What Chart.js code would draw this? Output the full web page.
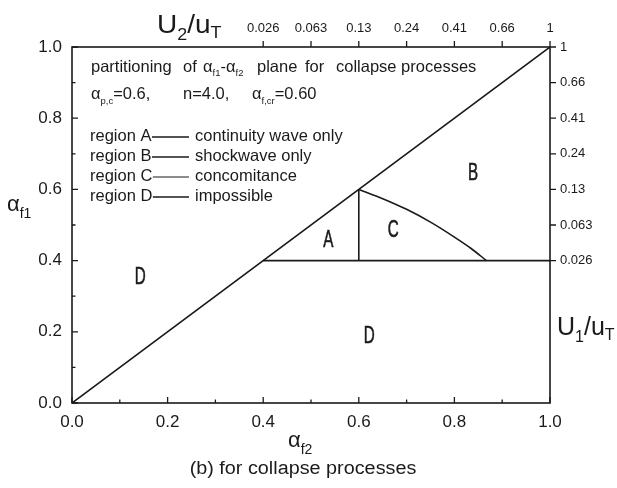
<!DOCTYPE html>
<html>
<head>
<meta charset="utf-8">
<script src="https://cdn.jsdelivr.net/npm/chart.js@4/dist/chart.umd.min.js"></script>
<style>
  html, body { margin: 0; padding: 0; background: #fff; }
  #wrap { width: 617px; height: 488px; }
</style>
</head>
<body>
<div id="wrap"><canvas id="c" width="617" height="488"></canvas></div>
<script>
// Boundaries of the partition in the αf2–αf1 plane
const diagonalF2 = [0, 1];
const diagonalF1 = [0, 1];
const baseF2 = [0.4, 1.0];
const baseF1 = [0.4, 0.4];
const splitF2 = [0.6, 0.6];
const splitF1 = [0.4, 0.6];
const curveF2 = [0.6, 0.65, 0.7, 0.75, 0.8, 0.835, 0.867];
const curveF1 = [0.6, 0.574, 0.544, 0.508, 0.466, 0.434, 0.4];

// Secondary axes: velocity ratio U/uT at αf = 0.4 … 1.0
const ratioTickPos = [0.4, 0.5, 0.6, 0.7, 0.8, 0.9, 1.0];
const ratioTickLabels = ['0.026', '0.063', '0.13', '0.24', '0.41', '0.66', '1'];

// Region letters (anchored in data coordinates)
const regionNames = ['A', 'C', 'B', 'D', 'D'];
const regionF2 = [0.536, 0.672, 0.839, 0.143, 0.622];
const regionF1 = [0.457, 0.485, 0.645, 0.351, 0.185];

// Key text
const legendKeys = ['region A', 'region B', 'region C', 'region D'];
const legendDesc = ['continuity wave only', 'shockwave only', 'concomitance', 'impossible'];

const FF = '"Liberation Sans", Arial, Helvetica, sans-serif';
const INK = '#1a1a1a';

const toPts = (xs, ys) => xs.map((x, i) => ({ x: x, y: ys[i] }));

function lineSet(xs, ys, extra) {
  return Object.assign({
    data: toPts(xs, ys),
    showLine: true,
    borderColor: INK,
    borderWidth: 1.6,
    pointRadius: 0,
    fill: false
  }, extra || {});
}

// Draw a run of text pieces (main text + subscripts) left to right
function drawRich(ctx, x, y, parts, hs) {
  hs = hs || 1;
  ctx.save();
  ctx.translate(x, y);
  ctx.scale(hs, 1);
  ctx.textAlign = 'left';
  ctx.textBaseline = 'alphabetic';
  let cx = 0;
  for (const p of parts) {
    ctx.font = p.f;
    cx += p.dx || 0;
    ctx.fillText(p.t, cx, p.dy || 0);
    cx += ctx.measureText(p.t).width;
  }
  ctx.restore();
  return x + cx * hs;
}

const decorations = {
  id: 'decorations',
  afterDraw(chart) {
    const ctx = chart.ctx;
    const a = chart.chartArea;
    const sx = chart.scales.x, sy = chart.scales.y;
    const sx2 = chart.scales.x2, sy2 = chart.scales.y2;
    ctx.save();
    ctx.strokeStyle = INK;
    ctx.fillStyle = INK;

    // frame
    ctx.lineWidth = 1.6;
    ctx.strokeRect(a.left, a.top, a.right - a.left, a.bottom - a.top);

    // tick marks: inward on left/bottom, outward on top/right
    ctx.lineWidth = 1.3;
    ctx.beginPath();
    for (let i = 0; i <= 10; i++) {
      const v = i / 10;
      const len = i % 2 === 0 ? 6 : 3.5;
      const py = sy.getPixelForValue(v);
      ctx.moveTo(a.left, py); ctx.lineTo(a.left + len, py);
      const px = sx.getPixelForValue(v);
      ctx.moveTo(px, a.bottom); ctx.lineTo(px, a.bottom - len);
    }
    for (const v of ratioTickPos) {
      const px = sx2.getPixelForValue(v);
      ctx.moveTo(px, a.top); ctx.lineTo(px, a.top - 6);
      const py = sy2.getPixelForValue(v);
      ctx.moveTo(a.right, py); ctx.lineTo(a.right + 6, py);
    }
    ctx.stroke();

    // header lines inside the plot
    const fh = '16.5px ' + FF, fsub = '9.5px ' + FF;
    drawRich(ctx, 91, 72, [{ t: 'partitioning', f: fh }]);
    drawRich(ctx, 183, 72, [{ t: 'of', f: fh }]);
    drawRich(ctx, 203, 72, [
      { t: 'α', f: fh }, { t: 'f1', f: fsub, dy: 4 },
      { t: '-', f: fh },
      { t: 'α', f: fh }, { t: 'f2', f: fsub, dy: 4 }
    ]);
    drawRich(ctx, 257, 72, [{ t: 'plane', f: fh }]);
    drawRich(ctx, 305, 72, [{ t: 'for', f: fh }]);
    drawRich(ctx, 336, 72, [{ t: 'collapse processes', f: fh }]);

    drawRich(ctx, 91, 99, [
      { t: 'α', f: fh }, { t: 'p,c', f: fsub, dy: 5 }, { t: '=0.6,', f: fh }
    ]);
    drawRich(ctx, 183, 99, [{ t: 'n=4.0,', f: fh }]);
    drawRich(ctx, 252, 99, [
      { t: 'α', f: fh }, { t: 'f,cr', f: fsub, dy: 5 }, { t: '=0.60', f: fh }
    ]);

    // key rows
    ctx.font = '16.5px ' + FF;
    ctx.textBaseline = 'middle';
    ctx.textAlign = 'left';
    legendKeys.forEach((k, i) => {
      const yc = 136 + i * 20;
      ctx.fillText(k, 90, yc);
      const w = ctx.measureText(k).width;
      ctx.lineWidth = i === 2 ? 1.0 : 1.3;
      ctx.beginPath();
      ctx.moveTo(90 + w + 0.5, yc + 1);
      ctx.lineTo(189, yc + 1);
      ctx.stroke();
      ctx.fillText(legendDesc[i], 195, yc);
    });

    // region letters
    regionNames.forEach((n, i) => {
      const px = sx.getPixelForValue(regionF2[i]);
      const py = sy.getPixelForValue(regionF1[i]);
      ctx.save();
      ctx.translate(px, py);
      ctx.scale(0.66, 1);
      ctx.font = '23px ' + FF;
      ctx.textAlign = 'center';
      ctx.textBaseline = 'middle';
      ctx.lineWidth = 0.6;
      ctx.fillText(n, 0, 0);
      ctx.strokeText(n, 0, 0);
      ctx.restore();
    });

    // axis titles
    drawRich(ctx, 157, 33, [
      { t: 'U', f: '25px ' + FF }, { t: '2', f: '16px ' + FF, dy: 7 },
      { t: '/u', f: '25px ' + FF }, { t: 'T', f: '16px ' + FF, dy: 5 }
    ], 1.12);
    drawRich(ctx, 557, 335, [
      { t: 'U', f: '25px ' + FF }, { t: '1', f: '16px ' + FF, dy: 7 },
      { t: '/u', f: '25px ' + FF }, { t: 'T', f: '16px ' + FF, dy: 5 }
    ], 1.0);
    drawRich(ctx, 7, 211, [
      { t: 'α', f: '22px ' + FF }, { t: 'f1', f: '14px ' + FF, dy: 7 }
    ]);
    drawRich(ctx, 288, 447, [
      { t: 'α', f: '22px ' + FF }, { t: 'f2', f: '14px ' + FF, dy: 7 }
    ]);

    // caption
    ctx.save();
    ctx.translate(303, 474);
    ctx.scale(1.1, 1);
    ctx.font = '18px ' + FF;
    ctx.textAlign = 'center';
    ctx.textBaseline = 'alphabetic';
    ctx.fillText('(b) for collapse processes', 0, 0);
    ctx.restore();

    ctx.restore();
  }
};

const noGrid = { display: false, drawTicks: false };
const noBorder = { display: false };

new Chart(document.getElementById('c'), {
  type: 'scatter',
  data: {
    datasets: [
      lineSet(diagonalF2, diagonalF1),
      lineSet(baseF2, baseF1),
      lineSet(splitF2, splitF1),
      lineSet(curveF2, curveF1, { cubicInterpolationMode: 'monotone' })
    ]
  },
  options: {
    responsive: false,
    animation: false,
    devicePixelRatio: 1,
    layout: { padding: 0 },
    plugins: { legend: { display: false }, tooltip: { enabled: false } },
    scales: {
      x: {
        type: 'linear', position: 'bottom', min: 0, max: 1,
        grid: noGrid, border: noBorder,
        ticks: {
          stepSize: 0.2, padding: 9, color: INK, maxRotation: 0,
          font: { family: FF, size: 17 },
          callback: v => Number(v).toFixed(1)
        },
        afterFit: s => { s.height = 85; }
      },
      y: {
        type: 'linear', position: 'left', min: 0, max: 1,
        grid: noGrid, border: noBorder,
        ticks: {
          stepSize: 0.2, padding: 10, color: INK,
          font: { family: FF, size: 17 },
          callback: v => Number(v).toFixed(1)
        },
        afterFit: s => { s.width = 72; }
      },
      x2: {
        type: 'linear', axis: 'x', position: 'top', min: 0, max: 1,
        grid: noGrid, border: noBorder,
        afterBuildTicks: s => { s.ticks = ratioTickPos.map(v => ({ value: v })); },
        ticks: {
          autoSkip: false, padding: 11, color: INK, maxRotation: 0,
          font: { family: FF, size: 13 },
          callback: (v, i) => ratioTickLabels[i]
        },
        afterFit: s => { s.height = 47; }
      },
      y2: {
        type: 'linear', axis: 'y', position: 'right', min: 0, max: 1,
        grid: noGrid, border: noBorder,
        afterBuildTicks: s => { s.ticks = ratioTickPos.map(v => ({ value: v })); },
        ticks: {
          autoSkip: false, padding: 10, color: INK,
          font: { family: FF, size: 13 },
          callback: (v, i) => ratioTickLabels[i]
        },
        afterFit: s => { s.width = 67; }
      }
    }
  },
  plugins: [decorations]
});
</script>
</body>
</html>
